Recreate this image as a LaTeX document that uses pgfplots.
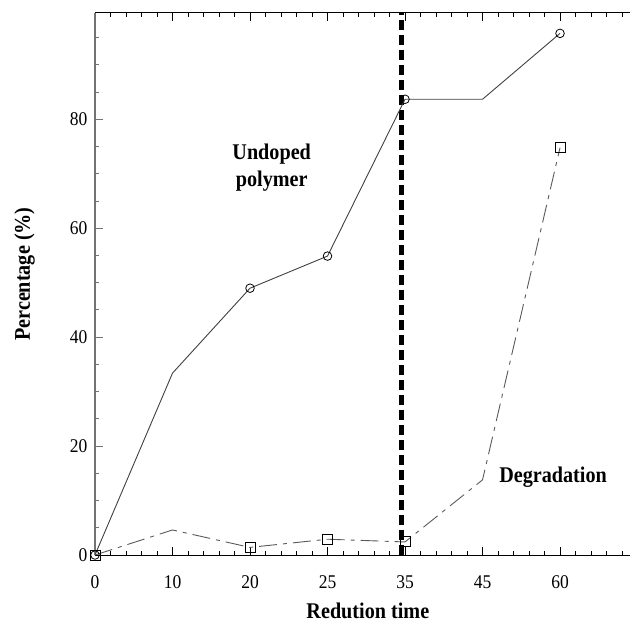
\documentclass[border=0pt]{standalone}
\usepackage{pgfplots}
\pgfplotsset{compat=1.18}
\usepackage{fontspec}
\setmainfont{Liberation Serif}[FakeStretch=0.9]
\begin{document}
\begin{tikzpicture}
\begin{axis}[
  scale only axis,
  width=535bp, height=542.3bp,
  xmin=0, xmax=6.903,
  ymin=0, ymax=99.6,
  axis x line=box, axis y line=left,
  axis line style={-},
  x axis line style={black, line width=1bp},
  y axis line style={black!55, line width=1.8bp},
  xtick={0,1,2,3,4,5,6},
  xticklabels={0,10,20,25,35,45,60},
  minor xtick={0,0.2,...,6.85},
  ytick={0,20,40,60,80},
  minor ytick={0,5,...,95},
  tick align=inside,
  major tick length=8bp,
  minor tick length=4bp,
  x tick style={black, line width=0.8bp},
  y tick style={black!55, line width=1bp},
  /pgf/number format/assume math mode=true,
  tick label style={font=\fontsize{19.5}{20}\selectfont},
  xticklabel style={anchor=base, yshift=-33bp},
  yticklabel style={anchor=east, xshift=-4bp},
  every axis x label/.style={at={(rel axis cs:0.51,0)}, anchor=base, yshift=-63.3bp, font=\fontsize{22.5}{24}\selectfont\bfseries},
  every axis y label/.style={at={(rel axis cs:0,0.518)}, xshift=-65bp, rotate=90, anchor=base, font=\fontsize{22.5}{24}\selectfont\bfseries},
  xlabel={Redution time},
  ylabel={Percentage (\%)},
  clip=false,
]
\coordinate (bl) at (rel axis cs:0,0);
\coordinate (tr) at (rel axis cs:1,1);
% vertical dashed separator at 35
\addplot[black, line width=4.5bp, dash pattern=on 10bp off 5bp] coordinates {(3.955,0) (3.955,99.6)};
% undoped polymer
\addplot[black!75, line width=0.9bp, mark=o, mark size=4.3bp, mark indices={1,3,4,5,7},
  mark options={black, solid, fill=white, line width=0.8bp}]
  coordinates {(0,0) (1,33.4) (2,49.0) (3,54.9) (4,83.7) (5,83.7) (6,95.8)};
% degradation
\addplot[black!65, line width=0.9bp, dash pattern=on 18bp off 6bp on 4bp off 6bp, mark=square, mark size=5bp, mark indices={1,3,4,5,7},
  mark options={black, solid, fill=white, line width=0.9bp}]
  coordinates {(0,0) (1,4.6) (2,1.4) (3,2.9) (4,2.4) (5,13.8) (6,74.8)};
\node[font=\fontsize{22.5}{27}\selectfont\bfseries, align=center] at (axis cs:2.28,71.1) {Undoped\\polymer};
\node[font=\fontsize{22.5}{27}\selectfont\bfseries] at (axis cs:5.91,14.3) {Degradation};
\end{axis}
\pgfresetboundingbox
\path[use as bounding box] ([xshift=-95bp,yshift=-67bp]bl) rectangle ([yshift=12.7bp]tr);
\end{tikzpicture}
\end{document}
